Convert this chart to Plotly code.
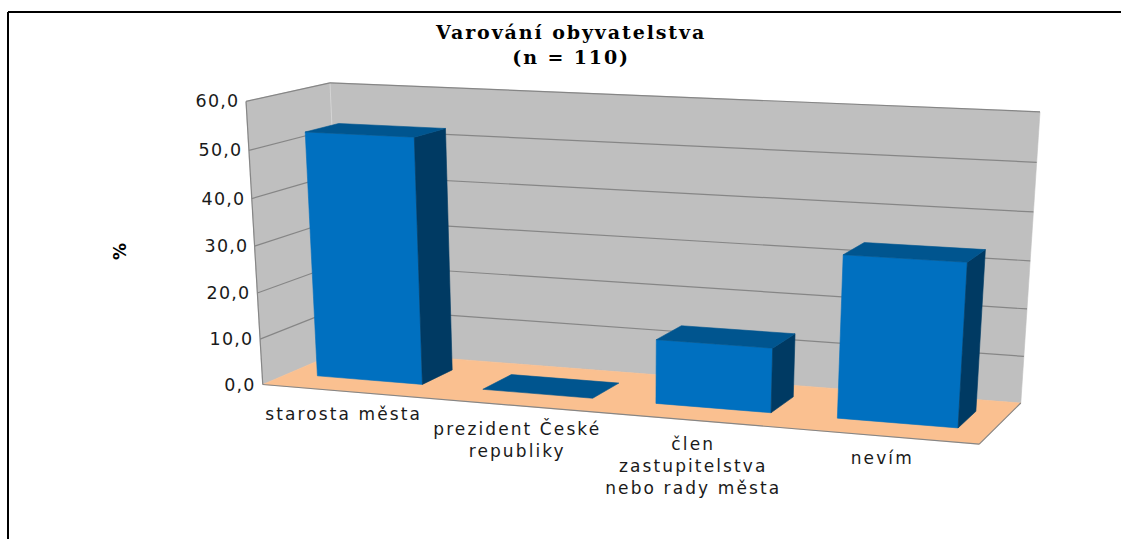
import numpy as np
import plotly.graph_objects as go

# ---- data ----
categories = ["starosta města", "prezident České<br>republiky", "člen<br>zastupitelstva<br>nebo rady města", "nevím"]
values = [52.7, 0.0, 13.6, 33.6]
tick_values = [0, 10, 20, 30, 40, 50, 60]
tick_labels = ["0,0", "10,0", "20,0", "30,0", "40,0", "50,0", "60,0"]
title_text = "<b>Varování obyvatelstva<br>(n = 110)</b>"
y_title = "<b>%</b>"

# ---- camera: calibrates (category, value, depth) -> canvas pixels ----
W, H = 1121, 539
VMAX = 60.0
NCAT = len(categories)
cam_world = [(0,0,0),(0,60,0),(0,60,1),(0,0,1),(4,60,1),(4,0,1),(4,0,0)]
cam_pixel = [(263,384),(246,101),(330,83),(342,351),(1040,112),(1021,402),(979,445)]

def fit_camera(world, pixel):
    A, b = [], []
    for (X, Y, Z), (x, y) in zip(world, pixel):
        A.append([X, Y, Z, 1, 0, 0, 0, 0, -x*X, -x*Y, -x*Z]); b.append(x)
        A.append([0, 0, 0, 0, X, Y, Z, 1, -y*X, -y*Y, -y*Z]); b.append(y)
    p = np.linalg.lstsq(np.array(A, float), np.array(b, float), rcond=None)[0]
    return np.append(p, 1.0).reshape(3, 4)

CAM = fit_camera(cam_world, cam_pixel)

def proj(pts):
    P = CAM @ np.c_[np.array(pts, float), np.ones(len(pts))].T
    return (P[0]/P[2]).tolist(), (P[1]/P[2]).tolist()

# ---- style ----
C_WALL, C_FLOOR, C_GRID = "#BFBFBF", "#FAC090", "#868686"
C_FRONT, C_TOP, C_SIDE = "#0070C0", "#00558F", "#003A63"
BAR_HALF = 0.32
BAR_SHIFT = 0.0
D0, D1 = 0.31, 0.72
TICK_FONT = dict(family="DejaVu Sans", size=17.5, color="#1a1a1a")
CAT_FONT = dict(family="DejaVu Sans", size=17, color="#1a1a1a")

fig = go.Figure()

def face(pts, color, line=None, lw=0.6):
    x, y = proj(pts + pts[:1])
    fig.add_trace(go.Scatter(x=x, y=y, mode="lines", fill="toself", fillcolor=color,
                             line=dict(color=line or color, width=lw), hoverinfo="skip", showlegend=False))

def seg(a, b, color=C_GRID, lw=1.2):
    x, y = proj([a, b])
    fig.add_trace(go.Scatter(x=x, y=y, mode="lines", line=dict(color=color, width=lw),
                             hoverinfo="skip", showlegend=False))

# walls and floor
face([(0,0,0),(0,VMAX,0),(0,VMAX,1),(0,0,1)], C_WALL)
face([(0,0,1),(0,VMAX,1),(NCAT,VMAX,1),(NCAT,0,1)], C_WALL)
face([(0,0,0),(0,0,1),(NCAT,0,1),(NCAT,0,0)], C_FLOOR)
seg((0,0,1),(0,VMAX,1), "#D4D4D4", 1)

# gridlines on both walls
for t in tick_values[1:]:
    seg((0,t,0),(0,t,1))
    seg((0,t,1),(NCAT,t,1))
# outer edges
seg((0,0,0),(0,VMAX,0))
seg((0,0,0),(NCAT,0,0))
seg((NCAT,0,0),(NCAT,0,1))

# bars
for i, v in enumerate(values):
    c = i + 0.5 + BAR_SHIFT
    u0, u1 = c - BAR_HALF, c + BAR_HALF
    if v > 0:
        face([(u0,0,D0),(u1,0,D0),(u1,v,D0),(u0,v,D0)], C_FRONT)
        face([(u1,0,D0),(u1,0,D1),(u1,v,D1),(u1,v,D0)], C_SIDE)
    face([(u0,v,D0),(u1,v,D0),(u1,v,D1),(u0,v,D1)], C_TOP)

# tick labels along the front-left wall edge
for t, lab in zip(tick_values, tick_labels):
    x, y = proj([(0, t, 0)])
    fig.add_annotation(x=x[0]-7, y=y[0], text=lab, showarrow=False, xanchor="right", yanchor="middle", font=TICK_FONT)

# category labels
cat_x = [343, 517, 693, 882]
cat_y = [414, 439, 466, 458]
for c, x, y in zip(categories, cat_x, cat_y):
    fig.add_annotation(x=x, y=y, text=c, showarrow=False, xanchor="center", yanchor="middle", align="center", font=CAT_FONT)

fig.add_annotation(x=570, y=44, text=title_text, showarrow=False, xanchor="center", yanchor="middle", align="center",
                   font=dict(family="DejaVu Serif", size=19, color="black"))
fig.add_annotation(x=120, y=251, text=y_title, showarrow=False, textangle=-90, font=dict(family="DejaVu Sans", size=17, color="black"))

# chart frame
fig.add_shape(type="line", x0=8, x1=W, y0=12, y1=12, line=dict(color="black", width=2))
fig.add_shape(type="line", x0=8, x1=8, y0=12, y1=H, line=dict(color="black", width=2))

fig.update_layout(width=W, height=H, margin=dict(l=0, r=0, t=0, b=0), paper_bgcolor="white", plot_bgcolor="white",
                  showlegend=False,
                  xaxis=dict(range=[0, W], visible=False, fixedrange=True),
                  yaxis=dict(range=[H, 0], visible=False, fixedrange=True))

# the reference's text is stretched wide: widen the tracking per font size
post = """
document.body.style.margin='0';document.body.style.overflow='hidden';
var s=document.createElement('style');
s.textContent='.annotation-text[style*="font-size: 17.5px"]{letter-spacing:1.2px}'
 +'.annotation-text[style*="font-size: 17px"]{letter-spacing:2.1px}'
 +'.annotation-text[style*="font-size: 19px"]{letter-spacing:1.9px}';
document.head.appendChild(s);
"""
fig.write_html("out.html", config=dict(displayModeBar=False), post_script=post)
